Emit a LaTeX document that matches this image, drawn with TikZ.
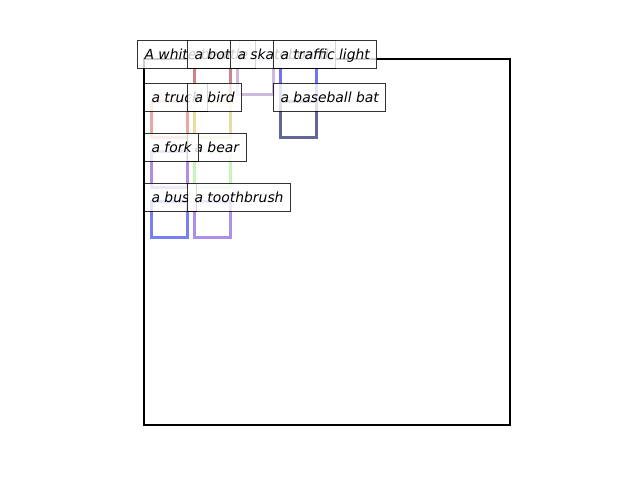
\documentclass[tikz,border=0pt]{standalone}
\usepackage{fontspec}
\setmainfont{DejaVu Sans}
\definecolor{cbottle}{RGB}{205,130,140}
\definecolor{cskate}{RGB}{205,185,220}
\definecolor{ctraffic}{RGB}{115,115,240}
\definecolor{ctruck}{RGB}{230,170,160}
\definecolor{cbird}{RGB}{228,222,165}
\definecolor{cbat}{RGB}{100,100,150}
\definecolor{cfork}{RGB}{178,140,222}
\definecolor{cbear}{RGB}{198,245,185}
\definecolor{cbus}{RGB}{118,128,240}
\definecolor{ctooth}{RGB}{172,142,235}
\begin{document}
\begin{tikzpicture}[x=1pt,y=-1pt,
  lab/.style={anchor=base west, font=\fontsize{13.9}{16}\selectfont\itshape,
    fill=white, fill opacity=0.8, text opacity=1, draw=black, draw opacity=0.8,
    line width=1pt, inner xsep=7pt, inner ysep=0pt, text height=19pt, text depth=9pt},
  rbox/.style={line width=3pt}]
\useasboundingbox[fill=white] (0,0) rectangle (640,480);
% image frame (caption box)
\draw[line width=2.2pt] (144,59) rectangle (510,425);
% object boxes
\draw[rbox,cbottle] (194,59) rectangle (230,101);
\draw[rbox,cskate] (237,59) rectangle (273,94);
\draw[rbox,ctraffic] (280,59) rectangle (316,137);
\draw[rbox,ctruck] (151,101) rectangle (187,137);
\draw[rbox,cbird] (194,101) rectangle (230,137);
\draw[rbox,cbat] (280,101) rectangle (316,137);
\draw[rbox,cfork] (151,151) rectangle (187,187);
\draw[rbox,cbear] (194,151) rectangle (230,187);
\draw[rbox,cbus] (151,201) rectangle (187,237);
\draw[rbox,ctooth] (194,201) rectangle (230,237);
% labels
\node[lab] (lwhite) at (137,59) {A white bear};
\node[lab] (lbottle) at (187,59) {a bottle};
\node[lab] (lskate) at (230,59) {a skateboard};
\node[lab] (ltraffic) at (273,59) {a traffic light};
\node[lab] (ltruck) at (144,102) {a truck};
\node[lab] (lbird) at (187,102) {a bird};
\node[lab] (lbat) at (273,102) {a baseball bat};
\node[lab] (lbear) at (187,152) {a bear};
\node[lab] (lfork) at (144,152) {a fork};
\node[lab] (lbus) at (144,202) {a bus};
\node[lab] (ltooth) at (187,202) {a toothbrush};
\end{tikzpicture}
\end{document}
